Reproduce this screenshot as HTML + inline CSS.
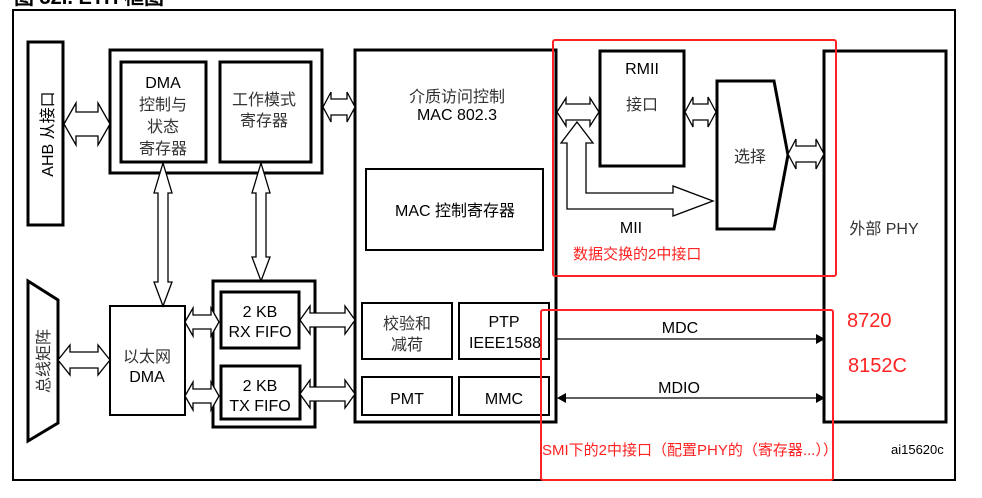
<!DOCTYPE html>
<html><head><meta charset="utf-8"><style>
html,body{margin:0;padding:0;background:#fff;}
svg{display:block;}
text{font-family:"Liberation Sans","Noto Sans CJK SC",sans-serif;}
.cn{fill:#333;}
</style></head><body>
<svg width="982" height="498" viewBox="0 0 982 498" xmlns="http://www.w3.org/2000/svg">
<text x="14" y="4" font-size="20" font-weight="bold" fill="#000">图 32I.        ETH 框图</text>
<rect x="13" y="10" width="942" height="470" fill="none" stroke="#000" stroke-width="2"/>
<g fill="#fff" stroke="#000" stroke-width="3">
<rect x="28" y="42" width="35" height="183"/>
<rect x="110" y="50" width="212" height="123"/>
<rect x="121" y="62" width="85" height="100"/>
<rect x="220" y="62" width="91" height="100"/>
<rect x="355" y="50" width="201" height="372"/>
<polygon points="28,281 58,300 58,423 28,441"/>
<rect x="213" y="281" width="102" height="146"/>
<rect x="221" y="292" width="78" height="56"/>
<rect x="221" y="366" width="79" height="53"/>
<rect x="600" y="51" width="84" height="115"/>
<polygon points="717,81 774,81 788,155 774,229 717,229"/>
<rect x="824" y="51" width="122" height="371"/>
</g>
<g fill="#fff" stroke="#000" stroke-width="2">
<rect x="110" y="306" width="75" height="109"/>
<rect x="366" y="169" width="177" height="81"/>
<rect x="362" y="303" width="90" height="56"/>
<rect x="459" y="303" width="90" height="56"/>
<rect x="362" y="377" width="90" height="38"/>
<rect x="459" y="377" width="90" height="38"/>
</g>
<g fill="#fff" stroke="#000" stroke-width="1.3">
<path d="M64,124 L76,103 L76,112 L98,112 L98,103 L110,124 L98,145 L98,136 L76,136 L76,145 Z"/>
<path d="M323,107 L331,92 L331,99 L347,99 L347,92 L355,107 L347,122 L347,115 L331,115 L331,122 Z"/>
<path d="M557,112 L566,98 L566,104 L590,104 L590,98 L599,112 L590,126 L590,120 L566,120 L566,126 Z"/>
<path d="M685,112 L693,97 L693,104 L708,104 L708,97 L716,112 L708,127 L708,120 L693,120 L693,127 Z"/>
<path d="M788,154 L796,139 L796,146 L816,146 L816,139 L824,154 L816,169 L816,162 L796,162 L796,169 Z"/>
<path d="M58,360 L70,345 L70,352 L98,352 L98,345 L110,360 L98,375 L98,368 L70,368 L70,375 Z"/>
<path d="M185,322 L193,308 L193,315 L211,315 L211,308 L219,322 L211,336 L211,329 L193,329 L193,336 Z"/>
<path d="M185,396 L193,382 L193,389 L211,389 L211,382 L219,396 L211,410 L211,403 L193,403 L193,410 Z"/>
<path d="M300,320 L310,306 L310,313 L345,313 L345,306 L355,320 L345,334 L345,327 L310,327 L310,334 Z"/>
<path d="M300,394 L310,380 L310,387 L345,387 L345,380 L355,394 L345,408 L345,401 L310,401 L310,408 Z"/>
<path d="M163,163 L172,193 L168,193 L168,282 L172,282 L163,306 L154,282 L158,282 L158,193 L154,193 Z"/>
<path d="M261,163 L270,193 L266,193 L266,257 L270,257 L261,281 L252,257 L256,257 L256,193 L252,193 Z"/>
<path d="M577,122 L593,143 L586,143 L586,193 L673,193 L673,186 L713,201 L673,216 L673,209 L567,209 L567,143 L561,143 Z"/>
</g>
<line x1="557" y1="339" x2="818" y2="339" stroke="#000" stroke-width="1.3"/>
<polygon points="816,334 825,339 816,344" fill="#000"/>
<line x1="564" y1="398" x2="818" y2="398" stroke="#000" stroke-width="1.3"/>
<polygon points="816,393 825,398 816,403" fill="#000"/>
<polygon points="566,393 557,398 566,403" fill="#000"/>
<rect x="553" y="40" width="283" height="236" rx="2" fill="none" stroke="#f22" stroke-width="2"/>
<rect x="541" y="310" width="292" height="170" rx="2" fill="none" stroke="#f22" stroke-width="2"/>
<g font-size="16" fill="#000" text-anchor="middle">
<text x="49" y="134" transform="rotate(-90 49 134)" dominant-baseline="middle">AHB 从接口</text>
<text x="45" y="361" transform="rotate(-90 45 361)" dominant-baseline="middle" class="cn">总线矩阵</text>
<text x="163" y="88">DMA</text>
<text x="163" y="110" class="cn">控制与</text>
<text x="163" y="132" class="cn">状态</text>
<text x="163" y="154" class="cn">寄存器</text>
<text x="264" y="105" class="cn">工作模式</text>
<text x="264" y="126" class="cn">寄存器</text>
<text x="457" y="102" class="cn">介质访问控制</text>
<text x="457" y="120">MAC 802.3</text>
<text x="455" y="216">MAC 控制寄存器</text>
<text x="147" y="362" class="cn">以太网</text>
<text x="147" y="382">DMA</text>
<text x="260" y="317">2 KB</text>
<text x="260" y="337">RX FIFO</text>
<text x="260" y="391">2 KB</text>
<text x="260" y="411">TX FIFO</text>
<text x="407" y="329" class="cn">校验和</text>
<text x="407" y="350" class="cn">减荷</text>
<text x="504" y="327">PTP</text>
<text x="505" y="348">IEEE1588</text>
<text x="407" y="404">PMT</text>
<text x="504" y="404">MMC</text>
<text x="642" y="74">RMII</text>
<text x="642" y="110" class="cn">接口</text>
<text x="750" y="162" class="cn">选择</text>
<text x="631" y="233">MII</text>
<text x="884" y="234" class="cn">外部 PHY</text>
<text x="680" y="333">MDC</text>
<text x="679" y="393">MDIO</text>
</g>
<text x="573" y="259" font-size="15" fill="#f22">数据交换的2中接口</text>
<text x="847" y="327" font-size="20" fill="#f22">8720</text>
<text x="848" y="372" font-size="20" fill="#f22">8152C</text>
<text x="542" y="455" font-size="15" fill="#f22">SMI下的2中接口（配置PHY的（寄存器...））</text>
<text x="891" y="454" font-size="13" fill="#000">ai15620c</text>
</svg>
</body></html>
